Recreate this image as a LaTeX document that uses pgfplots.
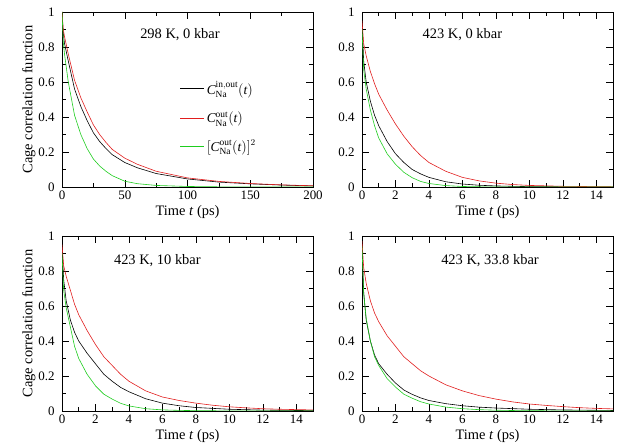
\documentclass[border=0pt]{standalone}
\usepackage{fontspec}
\setmainfont{Liberation Serif}
\usepackage{pgfplots}
\pgfplotsset{compat=1.18}
\definecolor{xgreen}{RGB}{30,205,30}
\definecolor{xred}{RGB}{225,30,30}
\tikzset{ttl/.style={font=\fontsize{14.5}{16}\selectfont}}
\pgfplotsset{
 panel/.style={
  scale only axis, width=251bp, height=175bp, anchor=south west,
  ymin=0, ymax=1, ytick={0,0.2,0.4,0.6,0.8,1}, minor y tick num=1,
  tick align=inside, major tick length=7bp, minor tick length=4bp,
  tick style={black, line width=0.5pt},
  axis line style={line width=0.6pt},
  /pgf/number format/assume math mode=true,
  tick label style={font=\fontsize{13}{14}\selectfont},
  yticklabel style={xshift=-4bp},
  label style={font=\fontsize{14.5}{16}\selectfont},
  every axis plot/.append style={line width=0.6pt, no marks},
  xlabel={Time \textit{t} (ps)},
  xlabel style={yshift=1bp},
 },
 narrow/.style={xmin=0,xmax=15,xtick={0,2,4,6,8,10,12,14},minor x tick num=1},
 lefty/.style={ylabel={Cage correlation function}, ylabel style={yshift=-4bp}},
}
\begin{document}
\begin{tikzpicture}
\path[use as bounding box] (0,0) rectangle (622bp,448bp);
% ---------- top left: 298 K, 0 kbar
\begin{axis}[panel, lefty, at={(62bp,261bp)}, xmin=0, xmax=200, xtick={0,50,100,150,200}, minor x tick num=1,
  legend style={at={(0.47,0.615)}, anchor=north west, draw=none, fill=none, font=\fontsize{13.5}{14}\selectfont, row sep=12bp, cells={anchor=west}, inner sep=0pt},
  legend image code/.code={\draw[#1] (0bp,0bp) -- (24bp,0bp);}]
\addplot[black] coordinates {(0,1.0) (1,0.88) (2,0.82) (5,0.72) (10,0.56) (15,0.46) (20,0.38) (25,0.31) (30,0.26) (35,0.22) (40,0.185) (50,0.14) (60,0.11) (75,0.077) (100,0.046) (125,0.028) (150,0.018) (175,0.011) (200,0.006)};
\addlegendentry{$\mathit{C}^{\mathrm{in,out}}_{\mathrm{Na}}(\mathit{t})$}
\addplot[xred] coordinates {(0,1.0) (1,0.9) (2,0.86) (5,0.76) (10,0.61) (15,0.51) (20,0.43) (25,0.355) (30,0.3) (35,0.255) (40,0.215) (50,0.165) (60,0.13) (75,0.09) (100,0.052) (125,0.032) (150,0.02) (175,0.012) (200,0.007)};
\addlegendentry{$\mathit{C}^{\mathrm{out}}_{\mathrm{Na}}(\mathit{t})$}
\addplot[xgreen] coordinates {(0,1.0) (1,0.83) (2,0.76) (5,0.6) (10,0.41) (15,0.3) (20,0.22) (25,0.16) (30,0.12) (35,0.09) (40,0.065) (50,0.033) (60,0.019) (75,0.009) (100,0.003) (125,0.001) (150,0.0005) (200,0.0)};
\addlegendentry{$[\mathit{C}^{\mathrm{out}}_{\mathrm{Na}}(\mathit{t})]^2$}
\node[ttl] at (rel axis cs:0.47,0.87) {298 K, 0 kbar};
\end{axis}
% ---------- top right: 423 K, 0 kbar
\begin{axis}[panel, narrow, at={(362bp,261bp)}]
\addplot[black] coordinates {(0,0.95) (0.1,0.72) (0.25,0.6) (0.5,0.49) (0.75,0.41) (1,0.35) (1.5,0.26) (2,0.19) (2.5,0.14) (3,0.1) (3.5,0.075) (4,0.055) (5,0.03) (6,0.017) (7,0.01) (8,0.006) (10,0.002) (12,0.001) (15,0.0)};
\addplot[xred] coordinates {(0,0.95) (0.1,0.82) (0.25,0.75) (0.5,0.66) (0.75,0.59) (1,0.53) (1.5,0.44) (2,0.36) (2.5,0.29) (3,0.23) (3.5,0.18) (4,0.14) (5,0.09) (6,0.055) (7,0.035) (8,0.022) (9,0.014) (10,0.009) (12,0.004) (15,0.001)};
\addplot[xgreen] coordinates {(0,0.9) (0.1,0.67) (0.25,0.56) (0.5,0.44) (0.75,0.35) (1,0.28) (1.5,0.19) (2,0.13) (2.5,0.084) (3,0.053) (3.5,0.032) (4,0.02) (5,0.008) (6,0.003) (7,0.0012) (8,0.0005) (10,0.0001) (15,0.0)};
\node[ttl] at (rel axis cs:0.4,0.87) {423 K, 0 kbar};
\end{axis}
% ---------- bottom left: 423 K, 10 kbar
\begin{axis}[panel, narrow, lefty, at={(62bp,37bp)}]
\addplot[black] coordinates {(0,0.95) (0.1,0.75) (0.25,0.63) (0.5,0.52) (0.75,0.45) (1,0.4) (1.5,0.33) (2,0.27) (2.5,0.21) (3,0.17) (3.5,0.135) (4,0.11) (5,0.07) (6,0.045) (7,0.03) (8,0.02) (10,0.01) (12,0.005) (15,0.002)};
\addplot[xred] coordinates {(0,0.95) (0.1,0.83) (0.25,0.77) (0.5,0.69) (0.75,0.61) (1,0.55) (1.5,0.46) (2,0.38) (2.5,0.31) (3,0.26) (3.5,0.21) (4,0.17) (5,0.115) (6,0.08) (7,0.06) (8,0.045) (9,0.033) (10,0.024) (11,0.018) (12,0.013) (13,0.01) (15,0.006)};
\addplot[xgreen] coordinates {(0,0.9) (0.1,0.69) (0.25,0.59) (0.5,0.48) (0.75,0.37) (1,0.3) (1.5,0.21) (2,0.144) (2.5,0.096) (3,0.068) (3.5,0.044) (4,0.029) (5,0.013) (6,0.0064) (7,0.0036) (8,0.002) (10,0.0006) (15,0.0)};
\node[ttl] at (rel axis cs:0.38,0.86) {423 K, 10 kbar};
\end{axis}
% ---------- bottom right: 423 K, 33.8 kbar
\begin{axis}[panel, narrow, at={(362bp,37bp)}]
\addplot[black] coordinates {(0,0.95) (0.1,0.68) (0.25,0.52) (0.5,0.4) (0.75,0.32) (1,0.27) (1.5,0.21) (2,0.16) (2.5,0.12) (3,0.095) (3.5,0.075) (4,0.06) (5,0.042) (6,0.03) (7,0.022) (8,0.017) (10,0.01) (12,0.006) (15,0.003)};
\addplot[xred] coordinates {(0,0.97) (0.1,0.82) (0.25,0.73) (0.5,0.63) (0.75,0.56) (1,0.51) (1.5,0.43) (2,0.37) (2.5,0.31) (3,0.27) (3.5,0.23) (4,0.2) (5,0.15) (6,0.115) (7,0.088) (8,0.068) (9,0.052) (10,0.04) (11,0.032) (12,0.025) (13,0.019) (14,0.015) (15,0.012)};
\addplot[xgreen] coordinates {(0,0.94) (0.1,0.67) (0.25,0.53) (0.5,0.4) (0.75,0.31) (1,0.26) (1.5,0.185) (2,0.137) (2.5,0.096) (3,0.073) (3.5,0.053) (4,0.04) (5,0.0225) (6,0.0132) (7,0.0077) (8,0.0046) (9,0.0027) (10,0.0016) (12,0.0006) (15,0.0001)};
\node[ttl] at (rel axis cs:0.51,0.86) {423 K, 33.8 kbar};
\end{axis}
\end{tikzpicture}
\end{document}
